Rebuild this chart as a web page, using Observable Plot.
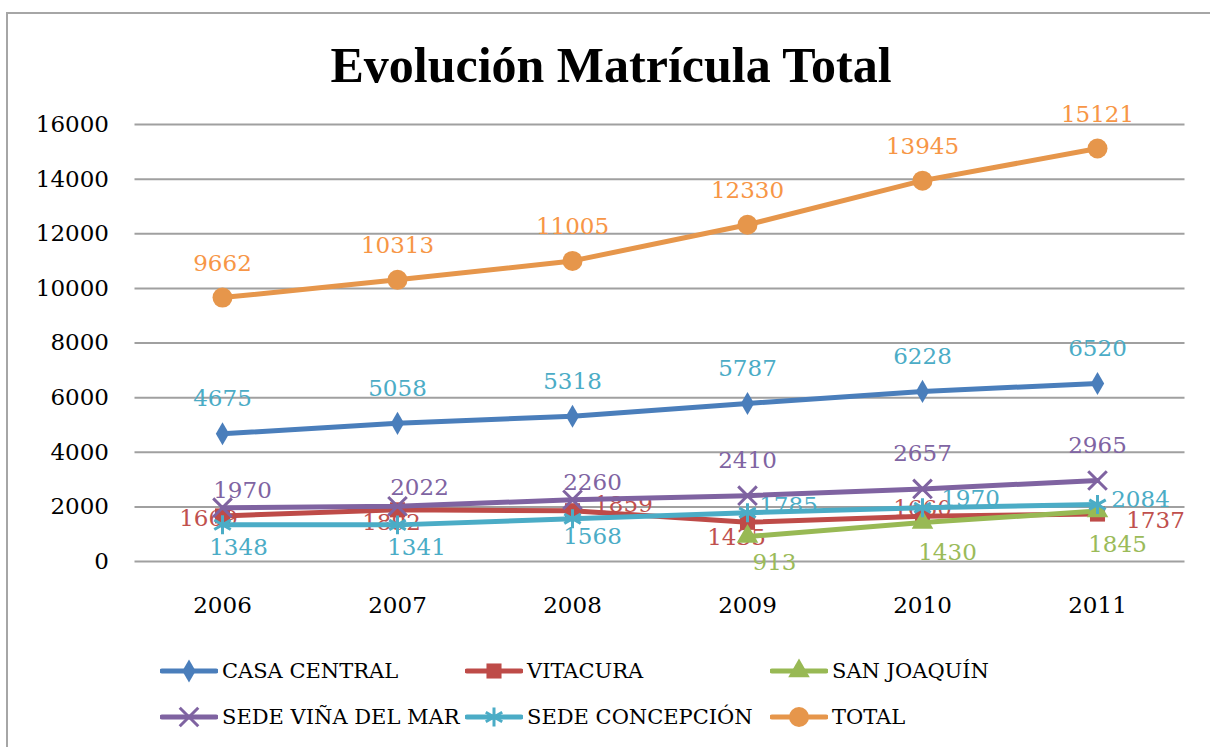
<!DOCTYPE html>
<html>
<head>
<meta charset="utf-8">
<script src="https://cdn.jsdelivr.net/npm/d3@7"></script>
<script src="https://cdn.jsdelivr.net/npm/@observablehq/plot@0.6"></script>
<style>
  html, body { margin: 0; padding: 0; background: #fff; overflow: hidden; }
  #wrap { position: relative; width: 1210px; height: 747px; overflow: hidden; background: #fff; }
  #frame { position: absolute; left: 6px; top: 12px; width: 1240px; height: 780px; border: 2px solid #a6a6a6; box-sizing: border-box; }
  #title { position: absolute; left: 0; width: 1222px; top: 40px; text-align: center; font-family: "Liberation Serif", serif; font-weight: bold; font-size: 50px; line-height: 1; color: #000; }
  #chart { position: absolute; left: 0; top: 0; }
  .leg { position: absolute; height: 30px; display: flex; align-items: center; font-family: "DejaVu Serif", serif; font-size: 21px; color: #000; white-space: nowrap; }
  .leg svg { margin-right: 4px; }
</style>
</head>
<body>
<div id="wrap">
  <div id="frame"></div>
  <div id="chart"></div>
  <div id="title">Evolución Matrícula Total</div>
</div>
<script>
// ---- Data ----
const years = ["2006", "2007", "2008", "2009", "2010", "2011"];
const seriesNames = ["CASA CENTRAL", "VITACURA", "SAN JOAQUÍN", "SEDE VIÑA DEL MAR", "SEDE CONCEPCIÓN", "TOTAL"];
const casaCentral = [4675, 5058, 5318, 5787, 6228, 6520];
const vitacura = [1669, 1892, 1859, 1435, 1660, 1737];
const sanJoaquin = [null, null, null, 913, 1430, 1845];
const vinaDelMar = [1970, 2022, 2260, 2410, 2657, 2965];
const concepcion = [1348, 1341, 1568, 1785, 1970, 2084];
const total = [9662, 10313, 11005, 12330, 13945, 15121];
const yTicks = [0, 2000, 4000, 6000, 8000, 10000, 12000, 14000, 16000];

// ---- Styles ----
const lineColors = ["#4A7EBB", "#BE4B48", "#98B954", "#7F63A1", "#4BACC6", "#E6964B"];
const labelColors = ["#4BACC6", "#C0504D", "#9BBB59", "#8064A2", "#4BACC6", "#F79646"];
const symbols = ["diamond", "square", "triangle", "times", "asterisk", "circle"];
const symbolR = [7, 8.5, 8, 8.5, 9, 10];
const stroked = [false, false, false, true, true, false];
// label nudges (dx, dy) per series per year, in pixels
const nudges = [
  [[0,-35],[0,-35],[0,-35],[0,-35],[0,-35],[0,-35]],
  [[-14,3],[-6,13],[51,-6],[-11,15],[0,-8],[58,7]],
  [[0,0],[0,0],[0,0],[27,26],[25,30],[20,34]],
  [[20,-17],[22,-19],[20,-17],[0,-35],[0,-35],[0,-35]],
  [[16,23],[19,23],[20,18],[41,-7],[48,-9],[43,-5]],
  [[0,-34],[0,-34],[0,-34],[0,-34],[0,-34],[0,-34]]
];

const seriesValues = [casaCentral, vitacura, sanJoaquin, vinaDelMar, concepcion, total];
const rows = [];
seriesValues.forEach((vals, si) => {
  vals.forEach((v, yi) => {
    if (v != null) rows.push({year: years[yi], series: seriesNames[si], si, yi, value: v});
  });
});

const marks = [];
marks.push(Plot.gridY(yTicks, {stroke: "#a0a0a0", strokeOpacity: 1, strokeWidth: 2}));
marks.push(Plot.axisY(yTicks, {tickSize: 0, tickPadding: 26, fontSize: 23, fontFamily: "DejaVu Serif", fill: "#000", tickFormat: d => String(d), label: null}));
marks.push(Plot.axisX({tickSize: 0, tickPadding: 35, fontSize: 23, fontFamily: "DejaVu Serif", fill: "#000", label: null}));

// labels (drawn beneath series, as in the reference)
rows.forEach(r => {
  const [dx, dy] = nudges[r.si][r.yi];
  marks.push(Plot.text([r], {x: "year", y: "value", text: d => String(d.value), dx, dy,
    fill: labelColors[r.si], fontSize: 23, fontFamily: "DejaVu Serif"}));
});

seriesNames.forEach((name, si) => {
  const data = rows.filter(r => r.si === si);
  marks.push(Plot.line(data, {x: "year", y: "value", stroke: lineColors[si], strokeWidth: 5, strokeLinejoin: "round", strokeLinecap: "round"}));
  if (stroked[si]) {
    marks.push(Plot.dot(data, {x: "year", y: "value", symbol: symbols[si], r: symbolR[si], stroke: lineColors[si], strokeWidth: 3, fill: "none"}));
  } else {
    marks.push(Plot.dot(data, {x: "year", y: "value", symbol: symbols[si], r: symbolR[si], fill: lineColors[si], stroke: "none"}));
  }
});

const chart = Plot.plot({
  width: 1210,
  height: 747,
  marginTop: 124,
  marginBottom: 186,
  marginLeft: 134.5,
  marginRight: 25.5,
  style: {background: "transparent", fontFamily: "DejaVu Serif"},
  x: {type: "point", domain: years, padding: 0.5, axis: null},
  y: {domain: [0, 16000], axis: null},
  marks
});
document.getElementById("chart").appendChild(chart);

// ---- Legend ----
const wrap = document.getElementById("wrap");
const legLeft = [160, 465, 770];
const legTop = [671, 717];
seriesNames.forEach((name, si) => {
  const col = si % 3, row = Math.floor(si / 3);
  const div = document.createElement("div");
  div.className = "leg";
  div.style.left = legLeft[col] + "px";
  div.style.top = (legTop[row] - 15) + "px";
  const svg = d3.create("svg").attr("width", 58).attr("height", 30);
  svg.append("line").attr("x1", 2).attr("x2", 56).attr("y1", 15).attr("y2", 15)
    .attr("stroke", lineColors[si]).attr("stroke-width", 5).attr("stroke-linecap", "round");
  const symMap = {diamond: d3.symbolDiamond, square: d3.symbolSquare, triangle: d3.symbolTriangle,
    times: d3.symbolTimes, asterisk: d3.symbolAsterisk, circle: d3.symbolCircle};
  const p = svg.append("path")
    .attr("d", d3.symbol(symMap[symbols[si]], Math.PI * symbolR[si] * symbolR[si])())
    .attr("transform", "translate(29,15)");
  if (stroked[si]) p.attr("fill", "none").attr("stroke", lineColors[si]).attr("stroke-width", 3);
  else p.attr("fill", lineColors[si]);
  div.appendChild(svg.node());
  const span = document.createElement("span");
  span.textContent = name;
  div.appendChild(span);
  wrap.appendChild(div);
});
</script>
</body>
</html>
